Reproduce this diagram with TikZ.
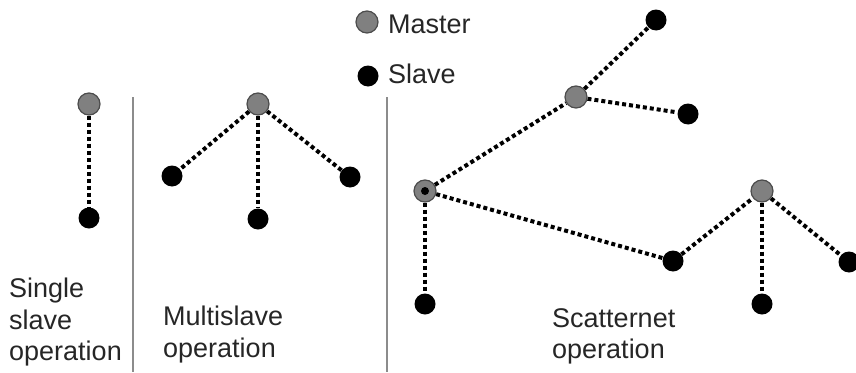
\documentclass[tikz,border=0pt]{standalone}
\usepackage{fontspec}
\setmainfont{Liberation Sans}
\usetikzlibrary{backgrounds}
\begin{document}
\begin{tikzpicture}[x=1pt,y=-1pt,
 master/.style={circle,draw=black!70,fill=black!50,line width=1.2pt,minimum size=22pt,inner sep=0pt},
 slave/.style={circle,fill=black,minimum size=21pt,inner sep=0pt},
 dotc/.style={circle,fill=black,minimum size=8pt,inner sep=0pt},
 link/.style={line width=4pt,dash pattern=on 4pt off 3pt,black},
 sep/.style={draw=black!45,line width=2pt},
 lbl/.style={anchor=base west,font=\fontsize{27}{32}\selectfont,text=black!85,inner sep=0pt}]
\useasboundingbox (0,0) rectangle (856,372);
% legend
\node[master] (lm) at (367,22) {};
\node[lbl] (lmt) at (388,33) {Master};
\node[slave] (ls) at (368,76) {};
\node[lbl] (lst) at (388,83) {Slave};
% separators
\coordinate (s1a) at (133,97); \coordinate (s1b) at (133,372);
\coordinate (s2a) at (387,97); \coordinate (s2b) at (387,372);
\draw[sep] (s1a) -- (s1b);
\draw[sep] (s2a) -- (s2b);
% single
\node[master] (am) at (89,104) {};
\node[slave] (as) at (89,218) {};
% multi
\node[master] (bm) at (258,104) {};
\node[slave] (bs1) at (172,176) {};
\node[slave] (bs2) at (258,219) {};
\node[slave] (bs3) at (350,177) {};
% scatternet
\node[master] (cms) at (425,191) {};
\node[dotc] (cmsd) at (425,191) {};
\node[master] (cm1) at (576,97) {};
\node[slave] (cs1) at (656,20) {};
\node[slave] (cs2) at (688,114) {};
\node[slave] (cs3) at (425,304) {};
\node[slave] (cs4) at (673,261) {};
\node[master] (cm2) at (762,191) {};
\node[slave] (cs5) at (762,304) {};
\node[slave] (cs6) at (849,262) {};
\begin{scope}[on background layer]
\draw[link] (am) -- (as);
\draw[link] (bm) -- (bs1);
\draw[link] (bm) -- (bs2);
\draw[link] (bm) -- (bs3);
\draw[link] (cms) -- (cm1);
\draw[link] (cm1) -- (cs1);
\draw[link] (cm1) -- (cs2);
\draw[link] (cms) -- (cs3);
\draw[link] (cms) -- (cs4);
\draw[link] (cs4) -- (cm2);
\draw[link] (cm2) -- (cs5);
\draw[link] (cm2) -- (cs6);
\end{scope}
% labels
\node[lbl] (t1a) at (9,297) {Single};
\node[lbl] (t1b) at (9,329) {slave};
\node[lbl] (t1c) at (9,360) {operation};
\node[lbl] (t2a) at (163,325) {Multislave};
\node[lbl] (t2b) at (163,357) {operation};
\node[lbl] (t3a) at (552,327) {Scatternet};
\node[lbl] (t3b) at (552,358) {operation};
\end{tikzpicture}
\end{document}
